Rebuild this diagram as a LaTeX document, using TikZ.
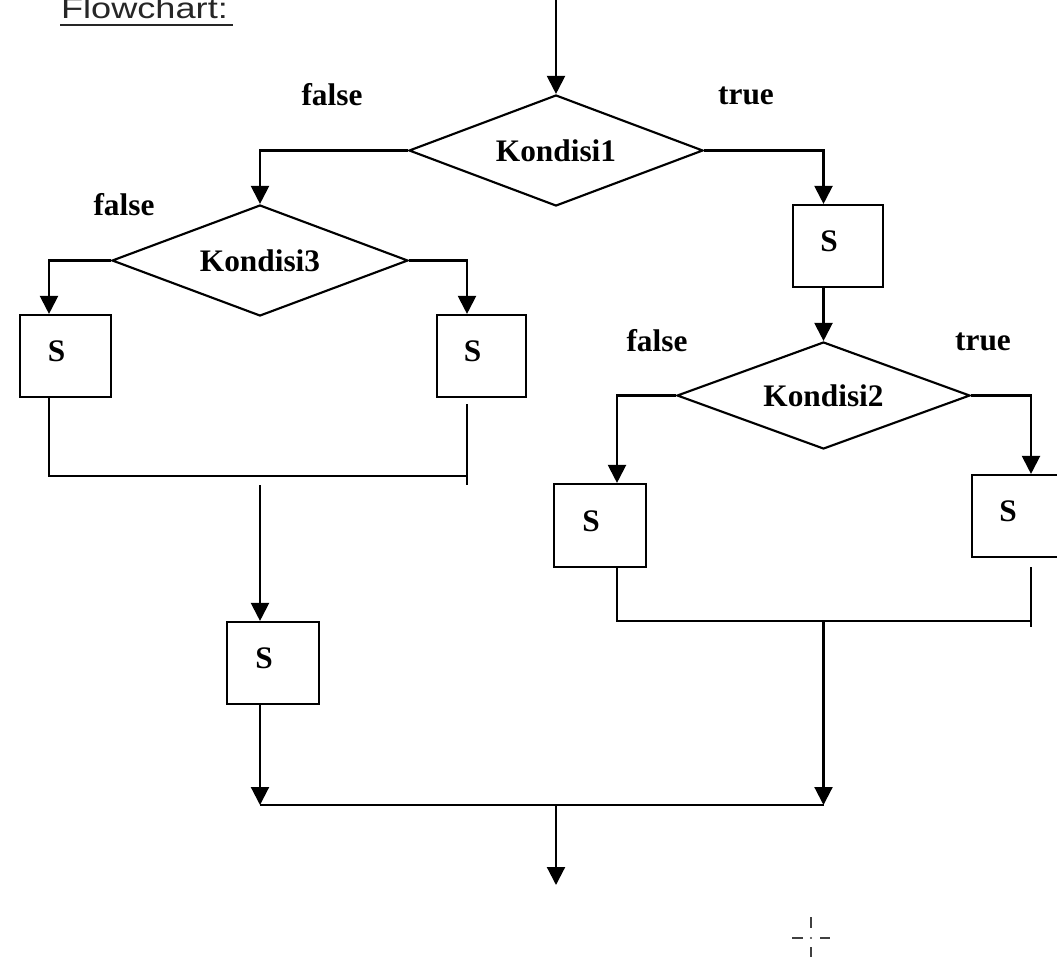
\documentclass[tikz,border=0pt]{standalone}
\usepackage{fontspec}
\usepackage{graphicx}
\setmainfont{Liberation Serif}
\newfontfamily\titlefont{Liberation Sans}
\usetikzlibrary{shapes.geometric,arrows.meta,calc}
\newdimen\pxu \pxu=0.75pt

\begin{document}
\begin{tikzpicture}[x=0.75pt,y=-0.75pt,
  line width=1.6pt,
  flow/.style={-{Triangle[width=13.5pt,length=13.5pt]}},
  lblfont/.style={font=\fontsize{23.5}{28}\selectfont\bfseries},
  cond/.style={diamond, draw, aspect=2.65, inner sep=0pt, minimum width=#1,
    minimum height=111\pxu, lblfont},
  sbox/.style={draw, inner sep=0pt, minimum width=90\pxu, minimum height=82\pxu,
    label={[lblfont, inner sep=0pt, xshift=-9\pxu, yshift=4.5\pxu]center:S}},
  branch/.style={lblfont, inner sep=0pt}
]
\useasboundingbox (0,0) rectangle (1057,957);
\clip (0,0) rectangle (1057,957);

% heading
\node[anchor=base west, inner sep=0pt, text=black!85,
      font=\titlefont\fontsize{21.7}{26}\selectfont] (title) at (60,18.5)
      {\scalebox{1.25}[1]{Flowchart:}};
\draw[line width=1.5pt, black!85] ([yshift=-6.5\pxu]title.base west)
      -- ([yshift=-6.5\pxu, xshift=4\pxu]title.base east);

% decisions
\node[cond=294\pxu] (K1) at (556,150.5) {Kondisi1};
\node[cond=296\pxu] (K3) at (260,260.5) {Kondisi3};
\node[cond=293\pxu, minimum height=107\pxu] (K2) at (823.5,395.5) {Kondisi2};

% statements
\node[sbox] (SR1) at (838,246) {};
\node[sbox, minimum width=91\pxu] (SL1) at (65.5,356) {};
\node[sbox, minimum width=89\pxu] (SL2) at (481.5,356) {};
\node[sbox, minimum width=92\pxu] (SM) at (273,663) {};
\node[sbox, minimum width=92\pxu, minimum height=83\pxu] (SR2) at (600,525.5) {};
\node[sbox] (SR3) at (1017,516) {};

% branch labels
\node[branch] (f1) at (332,95) {false};
\node[branch] (t1) at (746,96) {true};
\node[branch] (f3) at (124,205) {false};
\node[branch] (f2) at (657,341) {false};
\node[branch] (t2) at (983,342) {true};

% helper points for the wiring
\coordinate (start) at (556,-5);
\coordinate (cL1) at (49,0);
\coordinate (cL2) at (467,0);
\coordinate (cR2) at (617,0);
\coordinate (cR3) at (1031,0);
\coordinate (jL) at (467,476);
\coordinate (jR) at (1031,621);
\coordinate (bar) at (556,805);
\coordinate (stop) at (556,885);

% connectors
\draw[flow] (start) -- (K1.north);
\draw[flow] (K1.west) -| (K3.north);
\draw[flow] (K1.east) -| (K2.north |- SR1.north);
\draw[flow] (K2.north |- SR1.south) -- (K2.north);

\draw[flow] (K3.west) -| (cL1 |- SL1.north);
\draw[flow] (K3.east) -| (cL2 |- SL2.north);
\draw (cL1 |- SL1.south) |- (jL);
\draw ($(cL2 |- SL2.south)+(0,6)$) -- ($(jL)+(0,9)$);
\draw[flow] ($(K3.south |- jL)+(0,9)$) -- (K3.south |- SM.north);
\draw[flow] (K3.south |- SM.south) -- (K3.south |- bar);

\draw[flow] (K2.west) -| (cR2 |- SR2.north);
\draw[flow] (K2.east) -| (cR3 |- SR3.north);
\draw (cR2 |- SR2.south) |- (jR);
\draw ($(cR3 |- SR3.south)+(0,9)$) -- ($(jR)+(0,6)$);
\draw[flow] (K2.south |- jR) -- (K2.south |- bar);

\draw (K3.south |- bar) -- (K2.south |- bar);
\draw[flow] (bar) -- (stop);

% pointer cursor
\begin{scope}[line width=1.5pt, black!75]
  \draw (792,938) -- (803,938);
  \draw (820,938) -- (830,938);
  \draw (811,917) -- (811,928);
  \draw (811,947) -- (811,960);
  \fill (811,938) circle (1.2);
\end{scope}
\end{tikzpicture}
\end{document}
